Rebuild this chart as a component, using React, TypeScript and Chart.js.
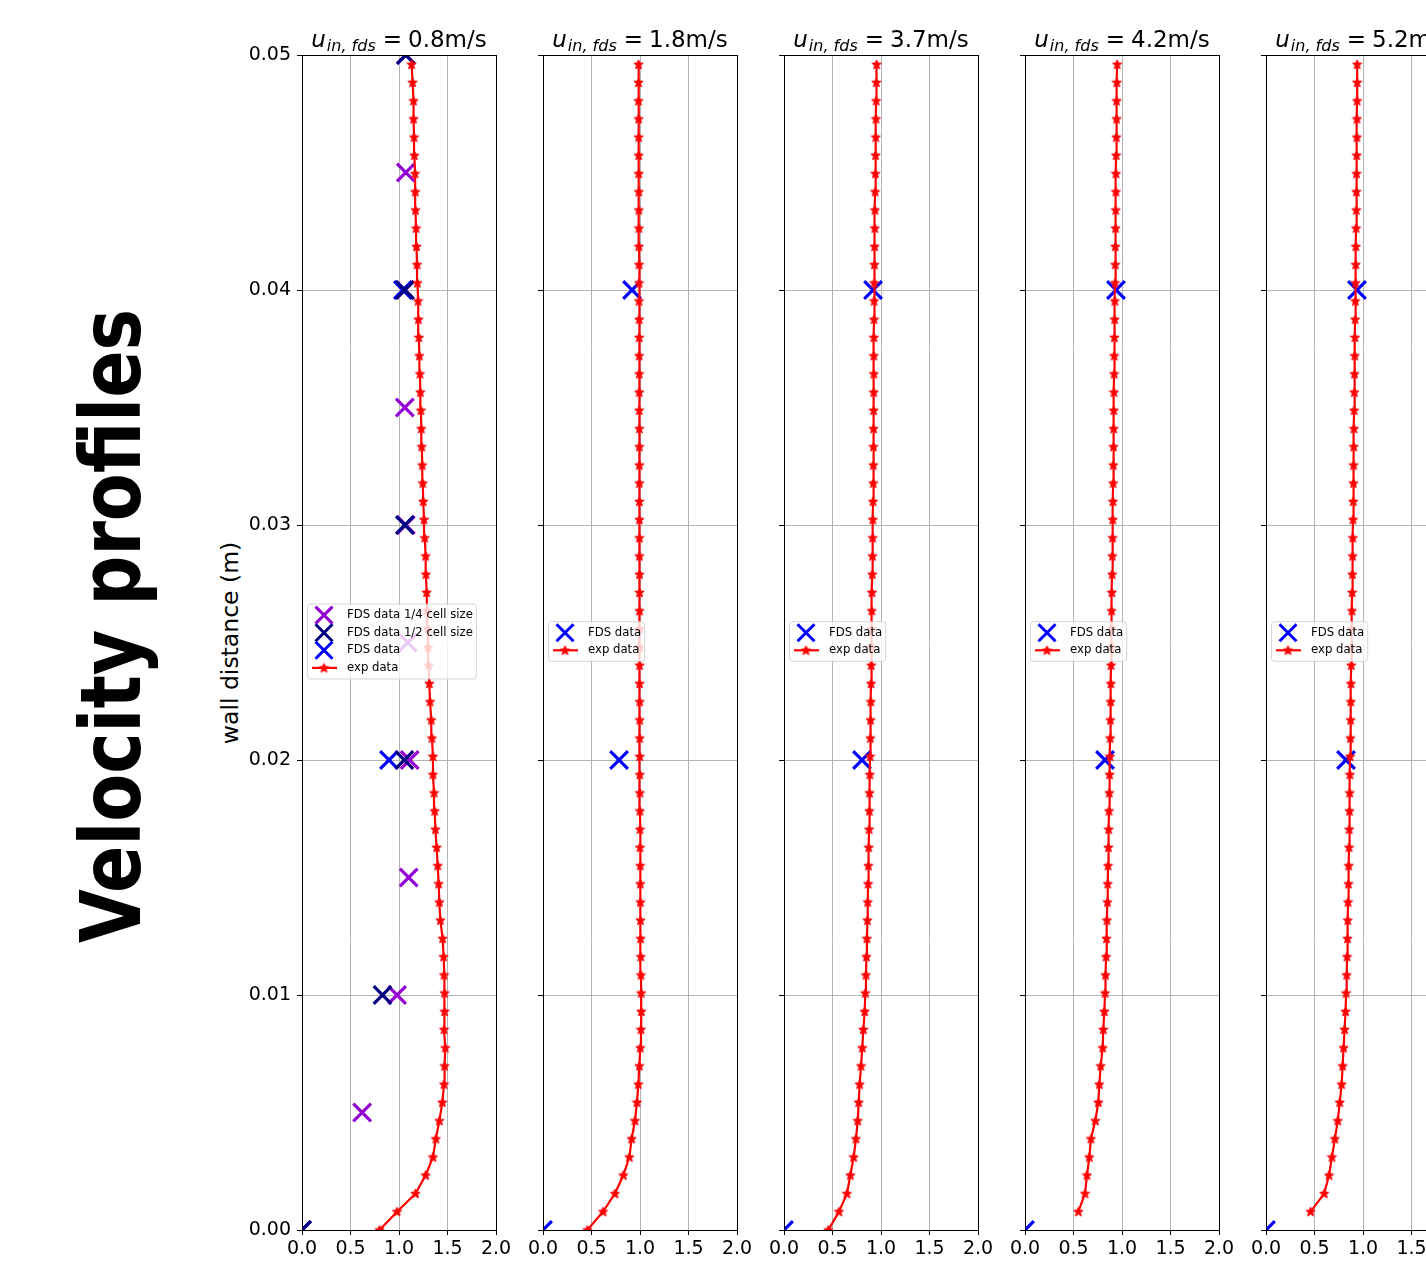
import React, { useEffect, useRef } from "react";
import { Chart, registerables } from "chart.js";

Chart.register(...registerables);

// ---------------- data ----------------
const SPEEDS = ["0.8", "1.8", "3.7", "4.2", "5.2"];

const Y_TICKS = [0, 0.01, 0.02, 0.03, 0.04, 0.05];
const Y_TICK_LABELS = ["0.00", "0.01", "0.02", "0.03", "0.04", "0.05"];
const X_TICKS = [0, 0.5, 1, 1.5, 2];
const X_TICK_LABELS = ["0.0", "0.5", "1.0", "1.5", "2.0"];

// wall distance (m) of the experimental profile points
const WALL_DIST = [
  0, 0.00078, 0.00155, 0.00233, 0.0031, 0.00388, 0.00465, 0.00543, 0.0062, 0.00698,
  0.00775, 0.00853, 0.0093, 0.01008, 0.01085, 0.01163, 0.0124, 0.01318, 0.01395, 0.01473,
  0.0155, 0.01628, 0.01705, 0.01783, 0.0186, 0.01938, 0.02015, 0.02093, 0.0217, 0.02248,
  0.02325, 0.02403, 0.0248, 0.02558, 0.02635, 0.02713, 0.0279, 0.02868, 0.02945, 0.03023,
  0.031, 0.03178, 0.03255, 0.03333, 0.0341, 0.03488, 0.03565, 0.03643, 0.0372, 0.03798,
  0.03875, 0.03953, 0.0403, 0.04108, 0.04185, 0.04263, 0.0434, 0.04418, 0.04495, 0.04573,
  0.0465, 0.04728, 0.04805, 0.04883, 0.0496,
];

const EXP_U_08 = [
  0.8, 0.98, 1.17, 1.275, 1.35, 1.38, 1.416, 1.447, 1.464, 1.47,
  1.477, 1.464, 1.47, 1.47, 1.464, 1.46, 1.45, 1.426, 1.416, 1.409,
  1.399, 1.388, 1.375, 1.368, 1.361, 1.35, 1.35, 1.34, 1.333, 1.32,
  1.313, 1.306, 1.3, 1.296, 1.289, 1.285, 1.278, 1.275, 1.265, 1.258,
  1.25, 1.245, 1.24, 1.235, 1.23, 1.226, 1.22, 1.216, 1.21, 1.205,
  1.2, 1.196, 1.19, 1.186, 1.18, 1.176, 1.17, 1.168, 1.165, 1.158,
  1.155, 1.15, 1.15, 1.14, 1.13,
];
const EXP_U_18 = [
  0.457, 0.619, 0.742, 0.828, 0.89, 0.914, 0.948, 0.969, 0.983, 0.993,
  1.003, 1.01, 1.014, 1.012, 1.01, 1.008, 1.006, 1.005, 1.004, 1.003,
  1.002, 1.0, 1.0, 0.999, 0.999, 0.998, 0.998, 0.997, 0.997, 0.997,
  0.996, 0.996, 0.996, 0.995, 0.995, 0.995, 0.995, 0.994, 0.994, 0.994,
  0.994, 0.993, 0.993, 0.993, 0.993, 0.992, 0.992, 0.992, 0.991, 0.991,
  0.991, 0.99, 0.99, 0.99, 0.989, 0.989, 0.988, 0.988, 0.987, 0.987,
  0.986, 0.986, 0.985, 0.985, 0.985,
];
const EXP_U_37 = [
  0.457, 0.567, 0.649, 0.684, 0.718, 0.742, 0.76, 0.77, 0.78, 0.794,
  0.807, 0.818, 0.832, 0.838, 0.845, 0.85, 0.855, 0.86, 0.863, 0.867,
  0.87, 0.874, 0.877, 0.88, 0.882, 0.885, 0.887, 0.89, 0.892, 0.895,
  0.897, 0.899, 0.9, 0.903, 0.905, 0.907, 0.91, 0.912, 0.914, 0.916,
  0.918, 0.92, 0.921, 0.922, 0.923, 0.924, 0.925, 0.926, 0.926, 0.927,
  0.928, 0.929, 0.93, 0.932, 0.934, 0.936, 0.938, 0.94, 0.942, 0.944,
  0.946, 0.948, 0.95, 0.952, 0.955,
];
const EXP_U_42 = [
  null, 0.55, 0.619, 0.639, 0.663, 0.68, 0.725, 0.756, 0.766, 0.78,
  0.801, 0.807, 0.818, 0.825, 0.83, 0.836, 0.84, 0.845, 0.85, 0.853,
  0.856, 0.86, 0.863, 0.866, 0.869, 0.872, 0.876, 0.878, 0.88, 0.883,
  0.885, 0.887, 0.889, 0.891, 0.893, 0.895, 0.898, 0.9, 0.903, 0.905,
  0.907, 0.909, 0.91, 0.912, 0.914, 0.915, 0.917, 0.919, 0.92, 0.922,
  0.924, 0.926, 0.928, 0.93, 0.931, 0.933, 0.935, 0.937, 0.938, 0.94,
  0.942, 0.944, 0.945, 0.947, 0.95,
];
const EXP_U_52 = [
  null, 0.46, 0.6, 0.65, 0.68, 0.71, 0.74, 0.76, 0.78, 0.79,
  0.8, 0.81, 0.82, 0.826, 0.832, 0.836, 0.84, 0.843, 0.846, 0.85,
  0.853, 0.856, 0.858, 0.861, 0.863, 0.865, 0.867, 0.87, 0.872, 0.874,
  0.876, 0.879, 0.881, 0.883, 0.886, 0.888, 0.89, 0.893, 0.895, 0.897,
  0.899, 0.901, 0.903, 0.905, 0.907, 0.909, 0.911, 0.913, 0.915, 0.917,
  0.919, 0.921, 0.923, 0.925, 0.927, 0.929, 0.931, 0.932, 0.934, 0.935,
  0.937, 0.938, 0.939, 0.94, 0.94,
];

// FDS results
const FDS_Y_QUARTER = [0, 0.005, 0.01, 0.015, 0.02, 0.025, 0.03, 0.035, 0.04, 0.045, 0.05];
const FDS_U_QUARTER_08 = [0, 0.62, 0.98, 1.1, 1.11, 1.09, 1.07, 1.06, 1.06, 1.07, 1.07];
const FDS_Y_HALF = [0, 0.01, 0.02, 0.03, 0.04, 0.05];
const FDS_U_HALF_08 = [0, 0.83, 1.055, 1.06, 1.06, 1.07];
const FDS_Y = [0, 0.02, 0.04];
const FDS_U_08 = [0, 0.897, 1.04];
const FDS_U_18 = [0, 0.784, 0.918];
const FDS_U_37 = [0, 0.804, 0.918];
const FDS_U_42 = [0, 0.825, 0.938];
const FDS_U_52 = [0, 0.825, 0.938];

const LABEL_QUARTER = "FDS data 1/4 cell size";
const LABEL_HALF = "FDS data 1/2 cell size";
const LABEL_FDS = "FDS data";
const LABEL_EXP = "exp data";

// ---------------- styling / layout ----------------
const FONT = '"DejaVu Sans", "Liberation Sans", sans-serif';
const C_QUARTER = "#9400d3";
const C_HALF = "#000080";
const C_FDS = "#0000ff";
const C_EXP = "#ff0000";

const PANEL_LEFT = [302, 543, 784, 1025, 1266];
const AX_W = 194;
const AX_TOP = 55;
const AX_BOTTOM = 1230;
const CANVAS_H = 1266;
const Y_AXIS_W = 70;
const RIGHT_PAD = 26;
const CANVAS_W = Y_AXIS_W + AX_W + RIGHT_PAD;

type Series = {
  label: string;
  color: string;
  kind: "x" | "line";
  xs: (number | null)[];
  ys: number[];
  order: number;
};

const EXP_SERIES = [EXP_U_08, EXP_U_18, EXP_U_37, EXP_U_42, EXP_U_52];
const FDS_SERIES = [FDS_U_08, FDS_U_18, FDS_U_37, FDS_U_42, FDS_U_52];

function panelSeries(i: number): Series[] {
  const list: Series[] = [];
  if (i === 0) {
    list.push({ label: LABEL_QUARTER, color: C_QUARTER, kind: "x", xs: FDS_U_QUARTER_08, ys: FDS_Y_QUARTER, order: 3 });
    list.push({ label: LABEL_HALF, color: C_HALF, kind: "x", xs: FDS_U_HALF_08, ys: FDS_Y_HALF, order: 1 });
  }
  list.push({ label: LABEL_FDS, color: C_FDS, kind: "x", xs: FDS_SERIES[i], ys: FDS_Y, order: 2 });
  list.push({ label: LABEL_EXP, color: C_EXP, kind: "line", xs: EXP_SERIES[i], ys: WALL_DIST, order: 0 });
  return list;
}

function makeStar(color: string, size: number) {
  const c = document.createElement("canvas");
  c.width = size;
  c.height = size;
  const g = c.getContext("2d")!;
  const cx = size / 2;
  const cy = size / 2 + 0.3;
  const ro = size / 2 - 0.6;
  const ri = ro * 0.45;
  g.beginPath();
  for (let k = 0; k < 10; k++) {
    const r = k % 2 === 0 ? ro : ri;
    const a = -Math.PI / 2 + (k * Math.PI) / 5;
    const px = cx + r * Math.cos(a);
    const py = cy + r * Math.sin(a);
    if (k === 0) g.moveTo(px, py);
    else g.lineTo(px, py);
  }
  g.closePath();
  g.fillStyle = color;
  g.fill();
  g.strokeStyle = color;
  g.lineWidth = 1;
  g.stroke();
  return c;
}

function drawX(ctx: CanvasRenderingContext2D, x: number, y: number, d: number, color: string) {
  ctx.save();
  ctx.strokeStyle = color;
  ctx.lineWidth = 3;
  ctx.beginPath();
  ctx.moveTo(x - d, y - d);
  ctx.lineTo(x + d, y + d);
  ctx.moveTo(x + d, y - d);
  ctx.lineTo(x - d, y + d);
  ctx.stroke();
  ctx.restore();
}

function Panel({ idx }: { idx: number }) {
  const ref = useRef<HTMLCanvasElement>(null);

  useEffect(() => {
    const canvas = ref.current;
    if (!canvas) return;
    const series = panelSeries(idx);
    const star = makeStar(C_EXP, 11);

    const datasets: any[] = series.map((s) => {
      const pts: { x: number; y: number }[] = [];
      s.xs.forEach((x, k) => {
        if (x !== null) pts.push({ x, y: s.ys[k] });
      });
      if (s.kind === "line") {
        return {
          label: s.label,
          data: pts,
          showLine: true,
          borderColor: s.color,
          backgroundColor: s.color,
          borderWidth: 2.2,
          pointStyle: star,
          pointRadius: 4,
          pointBorderWidth: 0,
          order: s.order,
          clip: 0,
        };
      }
      return {
        label: s.label,
        data: pts,
        showLine: false,
        borderColor: s.color,
        backgroundColor: s.color,
        pointStyle: "crossRot",
        pointRadius: 12.5,
        pointBorderWidth: 3.2,
        pointBorderColor: s.color,
        pointBackgroundColor: s.color,
        order: s.order,
        clip: 0,
      };
    });

    const framePlugin = {
      id: "frame",
      afterDatasetsDraw(chart: any) {
        const { left, right, top, bottom } = chart.chartArea;
        const ctx = chart.ctx;
        ctx.save();
        ctx.strokeStyle = "#000";
        ctx.lineWidth = 1;
        ctx.strokeRect(left + 0.5, top + 0.5, right - left, bottom - top);
        ctx.restore();
      },
    };

    const overlayPlugin = {
      id: "overlay",
      afterDraw(chart: any) {
        const ctx: CanvasRenderingContext2D = chart.ctx;
        const { left, right, top, bottom } = chart.chartArea;

        // ----- title: u_{in, fds} = X m/s
        ctx.save();
        const fMain = `23px ${FONT}`;
        const fIt = `italic 23px ${FONT}`;
        const fSub = `italic 16px ${FONT}`;
        const tU = "u";
        const tSub = "in, fds";
        const tEq = "=";
        const tVal = `${SPEEDS[idx]}m/s`;
        ctx.font = fIt;
        const wU = ctx.measureText(tU).width;
        ctx.font = fSub;
        const wSub = ctx.measureText(tSub).width;
        ctx.font = fMain;
        const wEq = ctx.measureText(tEq).width;
        const wVal = ctx.measureText(tVal).width;
        const g1 = 1, g2 = 7, g3 = 6;
        const total = wU + g1 + wSub + g2 + wEq + g3 + wVal;
        let x = (left + right) / 2 - total / 2;
        const base = 47;
        ctx.fillStyle = "#000";
        ctx.textBaseline = "alphabetic";
        ctx.textAlign = "left";
        ctx.font = fIt;
        ctx.fillText(tU, x, base);
        x += wU + g1;
        ctx.font = fSub;
        ctx.fillText(tSub, x, base + 4);
        x += wSub + g2;
        ctx.font = fMain;
        ctx.fillText(tEq, x, base);
        x += wEq + g3;
        ctx.fillText(tVal, x, base);
        ctx.restore();

        // ----- legend (center left)
        ctx.save();
        ctx.font = `11.7px ${FONT}`;
        const entries = series;
        const rowH = 17.6;
        const maxW = Math.max(...entries.map((e) => ctx.measureText(e.label).width));
        const boxX = left + 5.5;
        const boxW = 45 - 5.5 + maxW + 3.5;
        const boxH = entries.length * rowH + 4.5;
        const cy = (top + bottom) / 2 - 1;
        const boxY = cy - boxH / 2;
        ctx.beginPath();
        (ctx as any).roundRect(boxX, boxY, boxW, boxH, 3);
        ctx.fillStyle = "rgba(255,255,255,0.8)";
        ctx.fill();
        ctx.strokeStyle = "rgba(204,204,204,0.8)";
        ctx.lineWidth = 1;
        ctx.stroke();
        entries.forEach((e, k) => {
          const y = boxY + 2.25 + rowH * (k + 0.5);
          const mx = left + 22;
          if (e.kind === "x") {
            drawX(ctx, mx, y, 8.5, e.color);
          } else {
            ctx.strokeStyle = e.color;
            ctx.lineWidth = 2.2;
            ctx.beginPath();
            ctx.moveTo(left + 10, y);
            ctx.lineTo(left + 35, y);
            ctx.stroke();
            ctx.drawImage(star, mx - star.width / 2, y - star.height / 2);
          }
          ctx.fillStyle = "#000";
          ctx.textBaseline = "middle";
          ctx.textAlign = "left";
          ctx.fillText(e.label, left + 45, y);
        });
        ctx.restore();
      },
    };

    const chart = new Chart(canvas, {
      type: "scatter",
      data: { datasets },
      options: {
        responsive: false,
        maintainAspectRatio: false,
        animation: false,
        devicePixelRatio: 1,
        events: [],
        layout: { padding: { top: AX_TOP, right: RIGHT_PAD, left: 0, bottom: 0 } },
        plugins: {
          legend: { display: false },
          tooltip: { enabled: false },
          title: { display: false },
        },
        scales: {
          x: {
            type: "linear",
            position: "bottom",
            min: X_TICKS[0],
            max: X_TICKS[X_TICKS.length - 1],
            afterBuildTicks: (s: any) => {
              s.ticks = X_TICKS.map((v) => ({ value: v }));
            },
            afterFit: (s: any) => {
              s.height = CANVAS_H - AX_BOTTOM;
              s.paddingLeft = 0;
              s.paddingRight = 0;
            },
            ticks: {
              autoSkip: false,
              maxRotation: 0,
              minRotation: 0,
              padding: 3,
              color: "#000",
              font: { family: FONT, size: 19 },
              callback: (_v: any, i: number) => X_TICK_LABELS[i],
            },
            grid: {
              color: "#b4b4b4",
              lineWidth: 1,
              drawTicks: true,
              tickLength: 5,
              tickColor: "#000",
              tickWidth: 1,
            },
            border: { display: true, color: "#000", width: 1 },
          },
          y: {
            type: "linear",
            position: "left",
            min: Y_TICKS[0],
            max: Y_TICKS[Y_TICKS.length - 1],
            afterBuildTicks: (s: any) => {
              s.ticks = Y_TICKS.map((v) => ({ value: v }));
            },
            afterFit: (s: any) => {
              s.width = Y_AXIS_W;
              s.paddingTop = 0;
              s.paddingBottom = 0;
            },
            ticks: {
              display: idx === 0,
              autoSkip: false,
              padding: 6,
              color: "#000",
              font: { family: FONT, size: 19 },
              callback: (_v: any, i: number) => Y_TICK_LABELS[i],
            },
            grid: {
              color: "#b4b4b4",
              lineWidth: 1,
              drawTicks: true,
              tickLength: 5,
              tickColor: "#000",
              tickWidth: 1,
            },
            border: { display: true, color: "#000", width: 1 },
          },
        },
      } as any,
      plugins: [framePlugin, overlayPlugin],
    });

    return () => chart.destroy();
  }, [idx]);

  return (
    <canvas
      ref={ref}
      width={CANVAS_W}
      height={CANVAS_H}
      style={{
        position: "absolute",
        left: PANEL_LEFT[idx] - Y_AXIS_W,
        top: 0,
        width: CANVAS_W,
        height: CANVAS_H,
      }}
    />
  );
}

export default function App() {
  return (
    <div
      style={{
        position: "absolute",
        left: 0,
        top: 0,
        width: 1426,
        height: 1266,
        overflow: "hidden",
        background: "#fff",
      }}
    >
      <div
        style={{
          position: "absolute",
          left: 111,
          top: 626,
          transform: "translate(-50%, -50%) rotate(-90deg) scaleX(0.83)",
          font: `bold 84px ${FONT}`,
          lineHeight: 1,
          whiteSpace: "nowrap",
          color: "#000",
        }}
      >
        Velocity profiles
      </div>
      <div
        style={{
          position: "absolute",
          left: 231,
          top: 643,
          transform: "translate(-50%, -50%) rotate(-90deg)",
          font: `23.5px ${FONT}`,
          lineHeight: 1,
          whiteSpace: "nowrap",
          color: "#000",
        }}
      >
        wall distance (m)
      </div>
      {PANEL_LEFT.map((_, i) => (
        <Panel key={i} idx={i} />
      ))}
    </div>
  );
}
